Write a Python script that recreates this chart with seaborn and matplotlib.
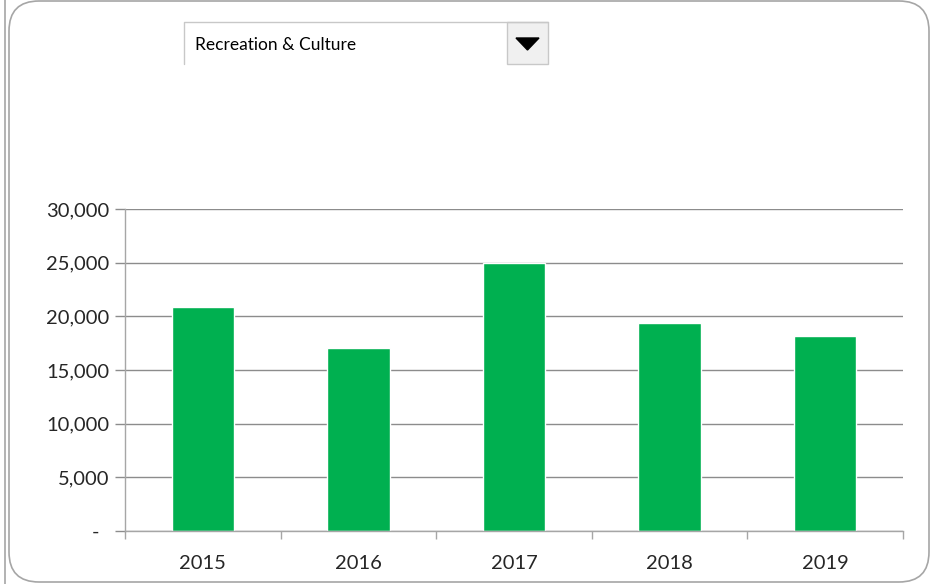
import seaborn as sns
import matplotlib.pyplot as plt
from matplotlib.patches import FancyBboxPatch, Rectangle, Polygon
from matplotlib.ticker import FuncFormatter, FixedLocator

# Data
years = ['2015', '2016', '2017', '2018', '2019']
values = [20870, 17050, 24950, 19350, 18170]
selected = 'Recreation & Culture'

sns.set_style('white')
plt.rcParams['font.family'] = ['Lato', 'DejaVu Sans']

fig = plt.figure(figsize=(9.41, 5.84), dpi=100)

# Overlay in pixel coordinates for the frame and the dropdown
deco = fig.add_axes([0, 0, 1, 1])
deco.set_xlim(0, 941)
deco.set_ylim(584, 0)
deco.axis('off')
deco.add_patch(FancyBboxPatch((9, 1), 920, 581, boxstyle='round,pad=0,rounding_size=30',
                              fc='white', ec='#a6a6a6', lw=1.2))
deco.plot([5, 5], [0, 584], color='#a6a6a6', lw=1.2)

# dropdown box
deco.plot([184, 184, 548], [64, 22, 22], color='#c8c8c8', lw=1)
deco.add_patch(Rectangle((507, 22), 41, 42, fc='#f0f0f0', ec='#c8c8c8', lw=1))
deco.add_patch(Polygon([[516, 38], [539, 38], [527.5, 50]], closed=True, fc='black', ec='black'))
deco.text(195, 45, selected, fontsize=12.5, va='center', ha='left', color='black')

# Bar chart
ax = fig.add_axes([125 / 941, 1 - 531 / 584, 778 / 941, 322 / 584])
sns.barplot(x=years, y=values, color='#00b050', width=0.4, saturation=1, ax=ax)

ax.set_ylim(0, 30000)
ax.set_xlim(-0.5, len(years) - 0.5)
ax.set_yticks(range(0, 30001, 5000))
ax.yaxis.set_major_formatter(FuncFormatter(lambda v, p: '-  ' if v == 0 else f'{v:,.0f}'))
ax.grid(axis='y', color='#8c8c8c', lw=1)
ax.set_axisbelow(True)

ax.xaxis.set_minor_locator(FixedLocator([i - 0.5 for i in range(len(years) + 1)]))
ax.tick_params(axis='x', which='major', length=0, pad=17, labelsize=14.5)
ax.tick_params(axis='x', which='minor', length=6, color='#a6a6a6', width=1, direction='out', bottom=True)
ax.tick_params(axis='y', length=7, color='#8c8c8c', width=1, left=True, pad=4, labelsize=14.5)

for s in ['top', 'right']:
    ax.spines[s].set_visible(False)
for s in ['left', 'bottom']:
    ax.spines[s].set_color('#a6a6a6')
    ax.spines[s].set_linewidth(1)
ax.set_xlabel('')
ax.set_ylabel('')

plt.savefig('out.png', dpi=100)
